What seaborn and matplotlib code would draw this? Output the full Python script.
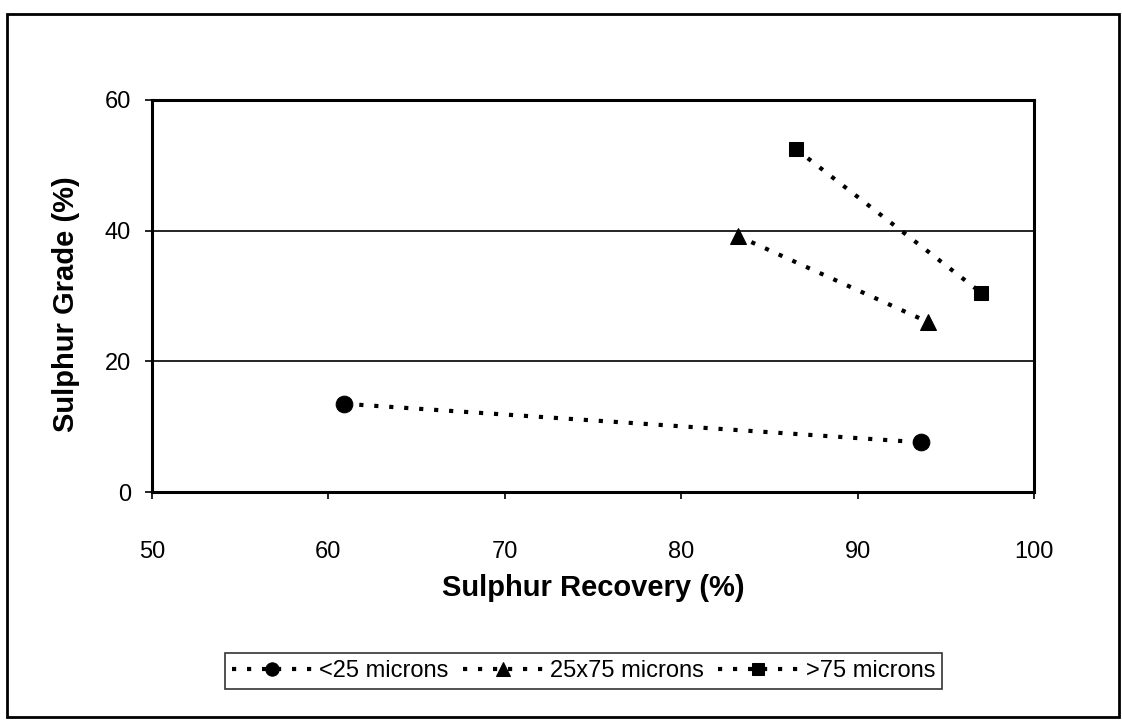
import matplotlib
matplotlib.use("Agg")
import matplotlib.pyplot as plt
import seaborn as sns
from matplotlib.patches import Rectangle

# dados
rec_menor25 = [60.9, 93.6]
grade_menor25 = [13.5, 7.6]
rec_25x75 = [83.2, 94.0]
grade_25x75 = [39.2, 26.0]
rec_maior75 = [86.5, 97.0]
grade_maior75 = [52.5, 30.5]

series = [
    ("<25 microns", rec_menor25, grade_menor25, "o", 12),
    ("25x75 microns", rec_25x75, grade_25x75, "^", 12),
    (">75 microns", rec_maior75, grade_maior75, "s", 10.5),
]

sns.set_style("white")
plt.rcParams["font.family"] = ["Liberation Sans", "DejaVu Sans"]
plt.rcParams["text.color"] = "black"
plt.rcParams["axes.labelcolor"] = "black"
plt.rcParams["xtick.color"] = "black"
plt.rcParams["ytick.color"] = "black"

fig = plt.figure(figsize=(11.22, 7.26), dpi=100)
ax = fig.add_axes([0.1355, 0.3223, 0.7861, 0.54])

for nome, x, y, marcador, tam in series:
    sns.lineplot(x=x, y=y, ax=ax, color="black", marker=marcador, markersize=tam,
                 markeredgecolor="black", linestyle=(0, (1, 2.6)), linewidth=3.0,
                 label=nome, sort=False)

ax.set_xlim(50, 100)
ax.set_ylim(0, 60)
ax.set_xticks([50, 60, 70, 80, 90, 100])
ax.set_yticks([0, 20, 40, 60])
for g in [20, 40]:
    ax.axhline(g, color="black", linewidth=1.2, zorder=0)

for s in ax.spines.values():
    s.set_color("black")
    s.set_linewidth(2.2)

ax.tick_params(axis="x", direction="out", length=5, width=1.2, pad=30, labelsize=17, bottom=True)
ax.tick_params(axis="y", direction="out", length=5, width=1.2, pad=10, labelsize=17, left=True)

ax.set_xlabel("Sulphur Recovery (%)", fontsize=21, fontweight="bold")
ax.set_ylabel("Sulphur Grade (%)", fontsize=21, fontweight="bold")
ax.xaxis.set_label_coords(0.5, -0.21)
ax.yaxis.set_label_coords(-0.082, 0.48)

ax.get_legend().remove()
handles, labels = ax.get_legend_handles_labels()
leg = fig.legend(handles, labels, loc="center", bbox_to_anchor=(0.52, 0.076), ncol=3,
                 frameon=True, fancybox=False, fontsize=17, handlelength=3.4,
                 markerscale=0.8, handletextpad=0.3, columnspacing=0.6, borderpad=0.3)
leg.get_frame().set_edgecolor("black")
leg.get_frame().set_linewidth(1.2)

# moldura externa
fig.patches.append(Rectangle((0.006, 0.012), 0.991, 0.969, transform=fig.transFigure,
                             fill=False, edgecolor="black", linewidth=2))

fig.savefig("out.png", dpi=100)
